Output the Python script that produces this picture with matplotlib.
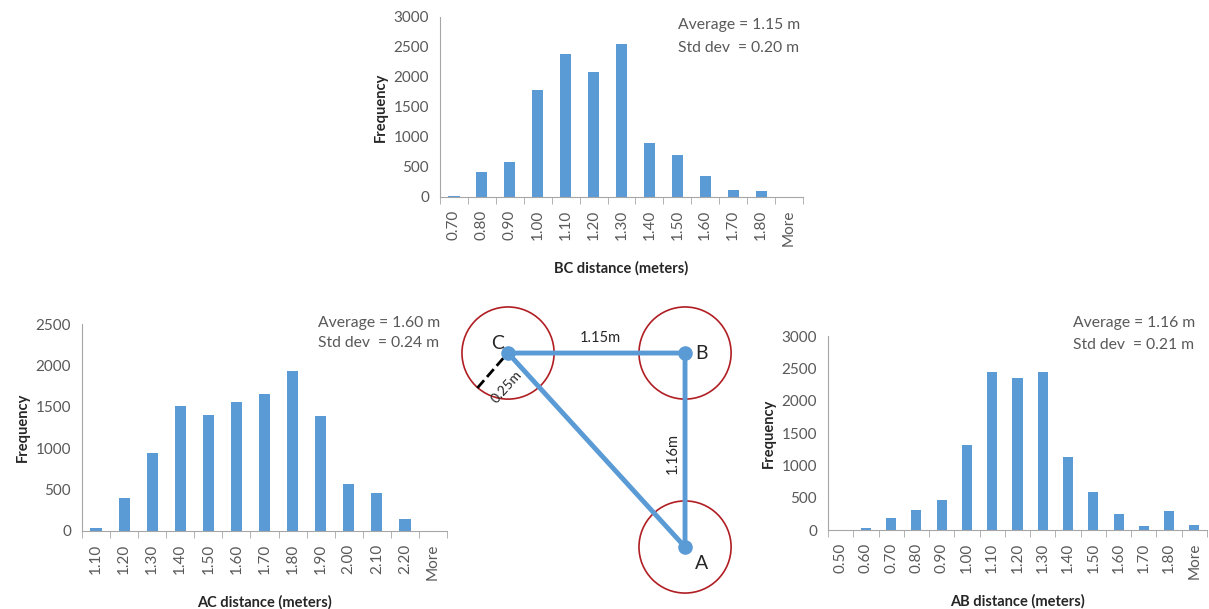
import numpy as np
import matplotlib
matplotlib.use("Agg")
import matplotlib.pyplot as plt

plt.rcParams['font.family'] = ['Lato', 'DejaVu Sans']

# histogram data
bc_bins = ["0.70", "0.80", "0.90", "1.00", "1.10", "1.20", "1.30", "1.40", "1.50", "1.60", "1.70", "1.80", "More"]
bc_freq = [12, 415, 576, 1782, 2375, 2081, 2552, 902, 703, 349, 111, 94, 0]

ac_bins = ["1.10", "1.20", "1.30", "1.40", "1.50", "1.60", "1.70", "1.80", "1.90", "2.00", "2.10", "2.20", "More"]
ac_freq = [32, 395, 948, 1512, 1399, 1560, 1653, 1931, 1387, 569, 464, 145, 5]

ab_bins = ["0.50", "0.60", "0.70", "0.80", "0.90", "1.00", "1.10", "1.20", "1.30", "1.40", "1.50", "1.60", "1.70", "1.80", "More"]
ab_freq = [0, 31, 191, 316, 460, 1314, 2441, 2353, 2441, 1122, 590, 248, 67, 300, 83]

# triangle diagram (meters)
node_names = ["C", "B", "A"]
node_x = [0.0, 1.15, 1.15]
node_y = [0.0, 0.0, -1.16]

BAR = "#5B9BD5"
GREY = "#595959"
W, H = 1209, 609

fig = plt.figure(figsize=(W / 100, H / 100), dpi=100)


def px_axes(x0, y0, x1, y1):
    # pixel box (top-left origin) -> figure axes
    return fig.add_axes([x0 / W, 1 - y1 / H, (x1 - x0) / W, (y1 - y0) / H])


def histo(ax, bins, freq, ymax, xlabel, avg, std, txt_pos):
    n = len(bins)
    x = np.arange(n)
    ax.bar(x, freq, width=0.4, color=BAR)
    ax.set_xlim(-0.5, n - 0.5)
    ax.set_ylim(0, ymax)
    ax.set_yticks(np.arange(0, ymax + 1, 500))
    ax.set_xticks(x)
    ax.set_xticklabels(bins, rotation=90)
    ax.set_xticks(np.arange(n + 1) - 0.5, minor=True)
    ax.tick_params(axis='x', which='major', length=0, labelsize=11, colors=GREY, pad=9)
    ax.tick_params(axis='x', which='minor', length=5, color="#A6A6A6", direction='out')
    ax.tick_params(axis='y', length=0, labelsize=11, colors=GREY, pad=8)
    for s in ["top", "right"]:
        ax.spines[s].set_visible(False)
    for s in ["left", "bottom"]:
        ax.spines[s].set_color("#A6A6A6")
    ax.set_xlabel(xlabel, fontsize=10.5, fontweight='bold', color="#262626", labelpad=11)
    ax.set_ylabel("Frequency", fontsize=10.5, fontweight='bold', color="#262626", labelpad=4)
    tx, ty1, ty2 = txt_pos
    ax.text(tx, ty1, "Average = %s m" % avg, transform=ax.transAxes,
            ha='left', va='center', fontsize=11.3, color=GREY)
    ax.text(tx, ty2, "Std dev  = %s m" % std, transform=ax.transAxes,
            ha='left', va='center', fontsize=11.3, color=GREY)


ax_bc = px_axes(440, 17, 803, 197)
histo(ax_bc, bc_bins, bc_freq, 3000, "BC distance (meters)", "1.15", "0.20", (0.656, 0.956, 0.828))

ax_ac = px_axes(82, 324, 447, 531)
histo(ax_ac, ac_bins, ac_freq, 2500, "AC distance (meters)", "1.60", "0.24", (0.647, 1.005, 0.908))

ax_ab = px_axes(828, 336, 1207, 530)
histo(ax_ab, ab_bins, ab_freq, 3000, "AB distance (meters)", "1.16", "0.21", (0.646, 1.067, 0.954))

# diagram
ax_d = px_axes(450, 290, 760, 600)
ax_d.set_xlim(-0.377, 1.637)
ax_d.set_ylim(-1.477, 0.377)
ax_d.axis('off')
order = [0, 1, 2, 0]
ax_d.plot([node_x[i] for i in order], [node_y[i] for i in order], color=BAR, lw=3.5,
          solid_capstyle='round', zorder=2)
ax_d.scatter(node_x, node_y, s=90, color=BAR, zorder=3)
ax_d.scatter(node_x, node_y, s=4400, facecolors='none', edgecolors="#B01E23", lw=1.2, zorder=1)
ax_d.plot([-0.03, -0.2], [-0.03, -0.21], ls='--', color='black', lw=2, zorder=2)
ax_d.text(-0.01, -0.2, "0.25m", rotation=48, fontsize=10, color="#262626", ha='center', va='center')
ax_d.text(0.6, 0.09, "1.15m", fontsize=10.5, color="#262626", ha='center', va='center')
ax_d.text(1.07, -0.6, "1.16m", rotation=90, fontsize=10.5, color="#262626", ha='center', va='center')
label_off = [(-0.07, 0.06), (0.11, 0.0), (0.11, -0.1)]
for name, nx, ny, (ox, oy) in zip(node_names, node_x, node_y, label_off):
    ax_d.text(nx + ox, ny + oy, name, fontsize=14, color="#262626", ha='center', va='center')

fig.savefig("out.png", dpi=100)
